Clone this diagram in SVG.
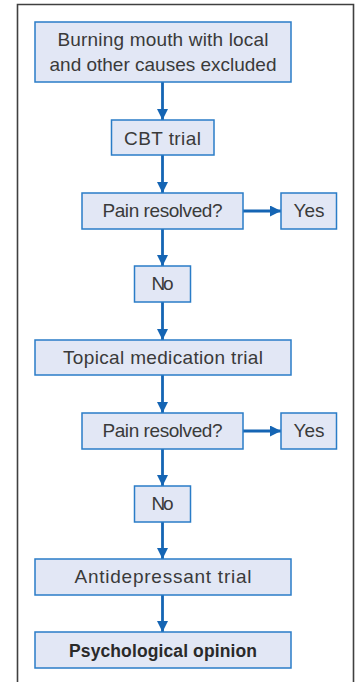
<svg xmlns="http://www.w3.org/2000/svg" width="356" height="682" viewBox="0 0 356 682">
  <defs>
    <marker id="arrow" viewBox="0 0 10 10" refX="10" refY="5" markerWidth="11" markerHeight="11" markerUnits="userSpaceOnUse" orient="auto">
      <path d="M0,0 L10,5 L0,10 Z" fill="#1565b4"/>
    </marker>
    <style>
      .box { fill: #e2e7f5; stroke: #2a7cc7; stroke-width: 1.5; }
      .lbl { font-family: "Liberation Sans", Arial, sans-serif; font-size: 19px; fill: #3a3a3a; text-anchor: middle; }
      .bold { font-weight: bold; font-size: 17.5px; fill: #2a2a2a; }
      .conn { stroke: #1565b4; stroke-width: 2.8; fill: none; marker-end: url(#arrow); }
      .frame { fill: none; stroke: #404040; stroke-width: 1.6; }
    </style>
  </defs>

  <rect width="356" height="682" fill="#ffffff"/>
  <!-- outer panel, open at the bottom -->
  <path class="frame" d="M17.5,682 V4.5 H353.5 V682"/>

  <g id="connectors">
    <line class="conn" x1="162.5" y1="82" x2="162.5" y2="120"/>
    <line class="conn" x1="162.5" y1="155" x2="162.5" y2="193"/>
    <line class="conn" x1="243" y1="211" x2="281" y2="211"/>
    <line class="conn" x1="162.5" y1="229" x2="162.5" y2="266"/>
    <line class="conn" x1="162.5" y1="302" x2="162.5" y2="340"/>
    <line class="conn" x1="162.5" y1="375" x2="162.5" y2="413"/>
    <line class="conn" x1="243" y1="431" x2="281" y2="431"/>
    <line class="conn" x1="162.5" y1="449" x2="162.5" y2="486"/>
    <line class="conn" x1="162.5" y1="522" x2="162.5" y2="559"/>
    <line class="conn" x1="162.5" y1="595" x2="162.5" y2="632"/>
  </g>

  <g id="start">
    <rect class="box" x="35" y="22" width="256" height="60"/>
    <text class="lbl" x="163" y="46" textLength="211" lengthAdjust="spacing">Burning mouth with local</text>
    <text class="lbl" x="163" y="70.5" textLength="227" lengthAdjust="spacing">and other causes excluded</text>
  </g>

  <g id="cbt">
    <rect class="box" x="111.5" y="120" width="102.5" height="35"/>
    <text class="lbl" x="162.5" y="144.5" textLength="77" lengthAdjust="spacing">CBT trial</text>
  </g>

  <g id="resolved1">
    <rect class="box" x="82" y="193" width="161" height="36"/>
    <text class="lbl" x="162.5" y="217" textLength="120" lengthAdjust="spacing">Pain resolved?</text>
  </g>

  <g id="yes1">
    <rect class="box" x="281" y="193" width="55.5" height="36"/>
    <text class="lbl" x="309" y="217" textLength="31" lengthAdjust="spacing">Yes</text>
  </g>

  <g id="no1">
    <rect class="box" x="134.5" y="266" width="56" height="36"/>
    <text class="lbl" x="162.5" y="290" textLength="22" lengthAdjust="spacing">No</text>
  </g>

  <g id="topical">
    <rect class="box" x="35" y="340" width="256" height="35"/>
    <text class="lbl" x="163" y="364" textLength="200" lengthAdjust="spacing">Topical medication trial</text>
  </g>

  <g id="resolved2">
    <rect class="box" x="82" y="413" width="161" height="36"/>
    <text class="lbl" x="162.5" y="437" textLength="120" lengthAdjust="spacing">Pain resolved?</text>
  </g>

  <g id="yes2">
    <rect class="box" x="281" y="413" width="55.5" height="36"/>
    <text class="lbl" x="309" y="437" textLength="31" lengthAdjust="spacing">Yes</text>
  </g>

  <g id="no2">
    <rect class="box" x="134.5" y="486" width="56" height="36"/>
    <text class="lbl" x="162.5" y="510" textLength="22" lengthAdjust="spacing">No</text>
  </g>

  <g id="antidepressant">
    <rect class="box" x="35" y="559" width="256" height="36"/>
    <text class="lbl" x="163" y="583" textLength="177" lengthAdjust="spacing">Antidepressant trial</text>
  </g>

  <g id="psychological">
    <rect class="box" x="35" y="632" width="256" height="36"/>
    <text class="lbl bold" x="163" y="656.5" textLength="188" lengthAdjust="spacing">Psychological opinion</text>
  </g>
</svg>
